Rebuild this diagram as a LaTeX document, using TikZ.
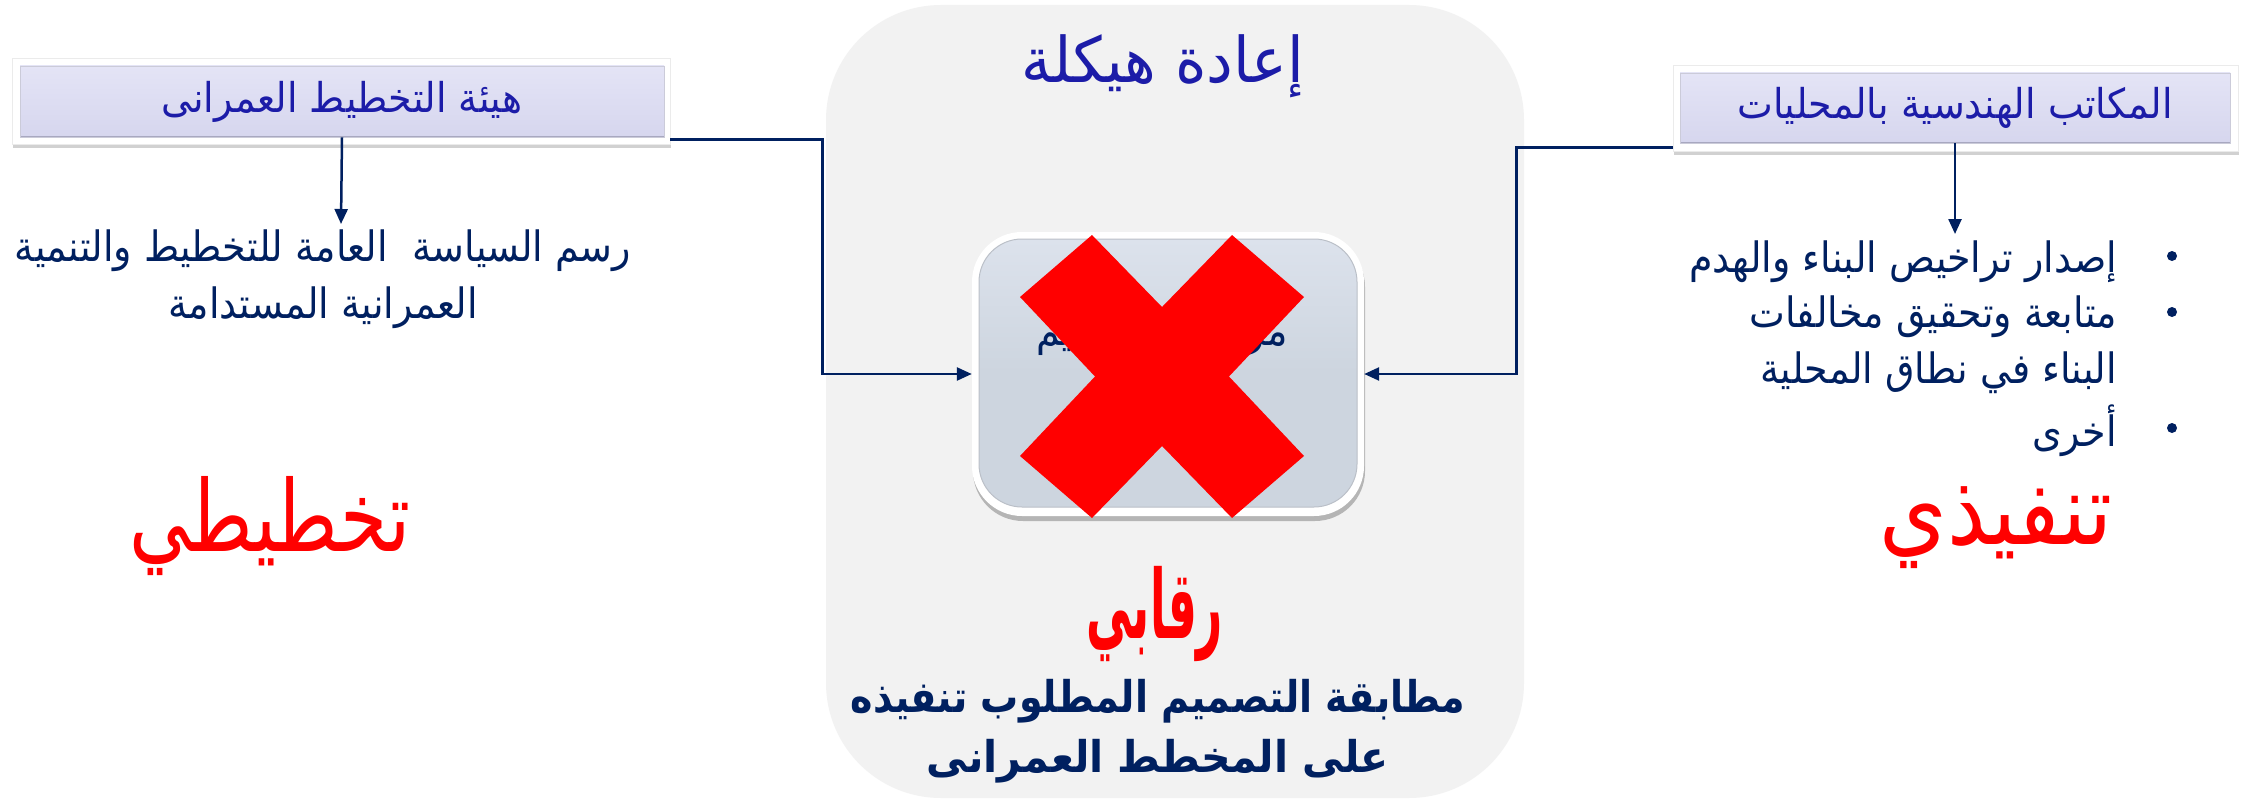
\documentclass[tikz,border=0pt]{standalone}
\usepackage{fontspec}
\usepackage{graphicx}
\newfontfamily\ar[Script=Arabic]{DejaVu Sans}
\TeXXeTstate=1
\usetikzlibrary{arrows.meta,shadows}
\definecolor{navy}{HTML}{002060}
\definecolor{tblue}{HTML}{1C1CA8}
\definecolor{panelc}{HTML}{F2F2F2}
\definecolor{lavtop}{HTML}{E4E4F6}
\definecolor{lavbot}{HTML}{D6D6EE}
\definecolor{lavdark}{HTML}{A8A8C0}
\definecolor{boxg}{HTML}{CDD5DF}
\definecolor{boxtop}{HTML}{DCE2EC}
\definecolor{boxdark}{HTML}{9EA5B0}
\definecolor{xred}{HTML}{FF0000}
\newcommand{\fs}[2]{\fontsize{#1}{#2}\selectfont}
\tikzset{
  conn/.style={draw=navy, line width=2.5pt, -{Triangle[length=15pt,width=13pt]}},
  framebox/.style={fill=white, draw=black!8, line width=0.6pt, inner sep=0pt,
    drop shadow={shadow xshift=1pt, shadow yshift=-4pt, opacity=0.18, fill=black}},
  tab/.style={top color=lavtop, bottom color=lavbot, draw=lavdark!60, line width=0.8pt,
    inner sep=0pt, text=tblue, font=\ar\fs{38}{42},
    path picture={\draw[lavdark, line width=3pt] (path picture bounding box.south west) -- (path picture bounding box.south east);}},
  bodytext/.style={text=navy, font=\ar\fs{38}{57}, inner sep=0pt},
  bigred/.style={text=xred, font=\ar\fs{76}{80}, inner sep=0pt},
  panelbox/.style={fill=panelc, rounded corners=115pt, inner sep=0pt},
  cframe/.style={fill=white, rounded corners=50pt, inner sep=0pt,
    drop shadow={shadow xshift=1pt, shadow yshift=-5pt, opacity=0.25, fill=black}},
  cinner/.style={top color=boxtop, bottom color=boxg, middle color=boxg, draw=boxdark!70, line width=1pt,
    rounded corners=43pt, inner sep=0pt},
  bullet/.style={circle, fill=navy, inner sep=0pt, minimum size=10pt},
}
\begin{document}
\begin{tikzpicture}[x=1pt,y=-1pt]
\useasboundingbox (0,0) rectangle (2247,800);
\fill[white] (0,0) rectangle (2247,800);

% central panel
\node[panelbox, minimum width=698pt, minimum height=793pt] (panel) at (1175,401.5) {};
\node[text=tblue, font=\ar\fs{60}{64}, inner sep=0pt] (title) at (1163,66) {\scalebox{1}[1.05]{\beginR إعادة هيكلة\endR}};

% left tab
\node[framebox, minimum width=658pt, minimum height=86pt] (lframe) at (341,101) {};
\node[tab, minimum width=644pt, minimum height=71pt] (lbox) at (342,101.5) {\scalebox{1}[1.08]{\beginR هيئة التخطيط العمرانى\endR}};
% right tab
\node[framebox, minimum width=565pt, minimum height=86pt] (rframe) at (1955.5,108) {};
\node[tab, minimum width=550pt, minimum height=70pt] (rbox) at (1955,108) {\scalebox{1}[1.08]{\beginR المكاتب الهندسية بالمحليات\endR}};

% central box
\node[cframe, minimum width=392pt, minimum height=284pt] (cframe) at (1168,374) {};
\node[cinner, minimum width=378pt, minimum height=268pt] (cbox) at (1168,373) {};
\node[text=navy, font=\ar\fs{38}{40}, inner sep=0pt] (ctext) at (1162,335) {\scalebox{1}[1.1]{\beginR مراجعة التصميم\endR}};
\fill[xred] (1092,235) -- (1162,307) -- (1232,235) -- (1304,297) -- (1229,376.5) -- (1304,456)
  -- (1232,518) -- (1162,446) -- (1092,518) -- (1020,456) -- (1095,376.5) -- (1020,297) -- cycle;

% left body text
\node[bodytext, align=center] (ltext) at (323,279) {\scalebox{1}[1.1]{\beginR رسم السياسة\ \ العامة للتخطيط والتنمية\endR}\\ \scalebox{1}[1.1]{\beginR العمرانية المستدامة\endR}};
\coordinate (ltip) at (341,224);
\draw[conn] (lbox.south) -- (ltip);

% right bullet list
\node[bodytext, anchor=east] (b1) at (2117,262) {\scalebox{1}[1.1]{\beginR إصدار تراخيص البناء والهدم\endR}};
\node[bodytext, anchor=east] (b2) at (2117,317) {\scalebox{1}[1.1]{\beginR متابعة وتحقيق مخالفات\endR}};
\node[bodytext, anchor=east] (b3) at (2117,373) {\scalebox{1}[1.1]{\beginR البناء في نطاق المحلية\endR}};
\node[bodytext, anchor=east] (b4) at (2117,431) {\scalebox{1}[1.1]{\beginR أخرى\endR}};
\node[bullet] (d1) at (2172,256) {};
\node[bullet] (d2) at (2172,312) {};
\node[bullet] (d4) at (2172,428) {};
\coordinate (rtip) at (1955,234);
\draw[conn] (rbox.south) -- (rtip);

% connectors into central box
\draw[conn] ([yshift=5pt]lframe.south east) -- ++(152,0) |- (cframe.west);
\draw[conn] ([yshift=4pt]rframe.south west) -- ++(-156,0) |- (cframe.east);

% big red words
\node[bigred] (plan) at (270,526) {\scalebox{1}[1.3]{\beginR تخطيطي\endR}};
\node[bigred] (exec) at (1996,528) {\scalebox{1.14}[1.3]{\beginR تنفيذي\endR}};
\node[bigred, font=\ar\bfseries\fs{76}{80}] (ctrl) at (1155,614) {\scalebox{0.6}[1.25]{\beginR رقابي\endR}};

% bottom bold text
\node[text=navy, font=\ar\bfseries\fs{38}{60}, align=center, inner sep=0pt] (ctxt) at (1158,731)
  {\scalebox{1}[1.15]{\beginR مطابقة التصميم المطلوب تنفيذه\endR}\\ \scalebox{1.08}[1.15]{\beginR على المخطط العمرانى\endR}};
\end{tikzpicture}
\end{document}
